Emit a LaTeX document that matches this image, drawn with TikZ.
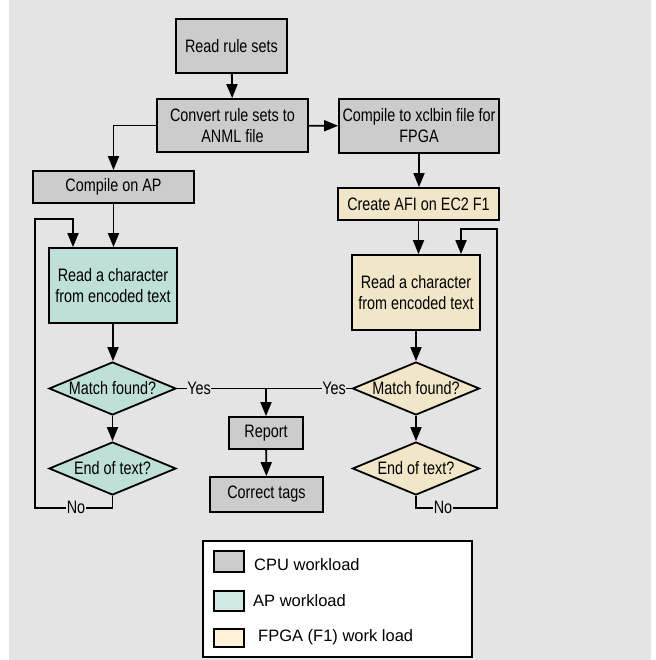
\documentclass[tikz,border=0pt]{standalone}
\usepackage{fontspec}
\setmainfont{Liberation Sans}
\newfontfamily\narrowfont{Liberation Sans}[FakeStretch=0.8]
\usetikzlibrary{arrows.meta,shapes.geometric}
\definecolor{bggray}{HTML}{E4E4E4}
\definecolor{cpufill}{HTML}{CCCCCC}
\definecolor{apfill}{HTML}{BFDFD9}
\definecolor{fpgafill}{HTML}{F2E6C9}
\definecolor{aplegend}{HTML}{CFEAE4}
\definecolor{fpgalegend}{HTML}{FFF2D6}
\begin{document}
\begin{tikzpicture}[x=1pt,y=-1pt,
  box/.style={draw, line width=1.8pt, inner sep=0pt, align=center,
    font=\narrowfont\fontsize{18}{21}\selectfont},
  cpu/.style={box, fill=cpufill},
  apb/.style={box, fill=apfill},
  fpb/.style={box, fill=fpgafill},
  dia/.style={draw, line width=1.8pt, shape=diamond, inner sep=0pt,
    minimum width=127pt, minimum height=53pt,
    font=\narrowfont\fontsize{18}{21}\selectfont},
  arr/.style={line width=1.8pt, -{Triangle[length=14pt,width=11pt]}},
  ln/.style={line width=1.8pt},
  lbl/.style={fill=bggray, inner sep=0.5pt, font=\narrowfont\fontsize{18}{21}\selectfont},
  sw/.style={draw, line width=1.6pt, minimum width=30pt, inner sep=0pt},
  leg/.style={anchor=west, inner sep=0pt, font=\fontsize{16.5}{20}\selectfont}
]
\useasboundingbox[fill=white] (0,0) rectangle (655,660);
\fill[bggray] (9,0) rectangle (651,660);

% nodes
\node[cpu, minimum width=111pt, minimum height=54pt] (read) at (231.5,46) {Read rule sets};
\node[cpu, minimum width=151pt, minimum height=53pt] (conv) at (232.5,125.5) {Convert rule sets to\\ANML file};
\node[cpu, minimum width=160pt, minimum height=54pt] (xcl) at (419,126) {Compile to xclbin file for\\FPGA};
\node[cpu, minimum width=161pt, minimum height=32pt] (cap) at (113.5,187) {Compile on AP};
\node[fpb, minimum width=161pt, minimum height=32pt] (afi) at (418.5,204) {Create AFI on EC2 F1};
\node[apb, minimum width=128pt, minimum height=75pt] (readA) at (113,285.5) {Read a character\\from encoded text};
\node[fpb, minimum width=128pt, minimum height=75pt] (readF) at (416,292.5) {Read a character\\from encoded text};
\node[dia, fill=apfill] (matchA) at (112.5,388.5) {\makebox[0pt]{Match found?}};
\node[dia, fill=apfill] (endA) at (112.5,468.5) {\makebox[0pt]{End of text?}};
\node[dia, fill=fpgafill] (matchF) at (416,388.5) {\makebox[0pt]{Match found?}};
\node[dia, fill=fpgafill] (endF) at (416,468.5) {\makebox[0pt]{End of text?}};
\node[cpu, minimum width=74pt, minimum height=32pt] (rep) at (266,433) {Report};
\node[cpu, minimum width=113pt, minimum height=35pt] (tags) at (266.5,494.5) {Correct tags};

\coordinate (loopA) at (35,219);
\coordinate (loopF) at (497,229);

% connectors
\draw[arr] (read) -- (conv);
\draw[arr] (conv) -- (xcl);
\draw[arr] (conv.west) -| (cap.north);
\draw[arr] (xcl.south) -- (xcl.south |- afi.north);
\draw[arr] (cap.south) -- (cap.south |- readA.north);
\draw[arr] (afi.south) -- (afi.south |- readF.north);
\draw[arr] (readA.south) -- (readA.south |- matchA.north);
\draw[arr] (matchA) -- (endA);
\draw[arr] (readF.south) -- (readF.south |- matchF.north);
\draw[arr] (matchF) -- (endF);
\draw[arr] (endA.south) -- ++(0,12) -| (loopA) -| ([xshift=-40pt]readA.north);
\draw[arr] (endF.south) -- ++(0,12) -| (loopF) -| ([xshift=45pt]readF.north);
\draw[ln] (matchA.east) -- (matchF.west);
\draw[arr] (rep.north |- matchA.east) -- (rep.north);
\draw[arr] (rep) -- (tags);

% labels
\node[lbl] (yesA) at (199,388.5) {Yes};
\node[lbl] (yesF) at (334,388.5) {Yes};
\node[lbl] (noA) at (76,507) {No};
\node[lbl] (noF) at (443,507) {No};

% legend
\node[draw, line width=1.4pt, fill=white, minimum width=269pt, minimum height=116pt, inner sep=0pt] (legend) at (337.5,599) {};
\node[sw, fill=cpufill, minimum height=21pt] (swc) at (229,561.5) {};
\node[sw, fill=aplegend, minimum height=20pt] (swa) at (229,601) {};
\node[sw, fill=fpgalegend, minimum height=18pt] (swf) at (229,638) {};
\node[leg] (tc) at (254,565) {CPU workload};
\node[leg] (ta) at (253,601) {AP workload};
\node[leg] (tf) at (258,637) {FPGA (F1) work load};
\end{tikzpicture}
\end{document}
